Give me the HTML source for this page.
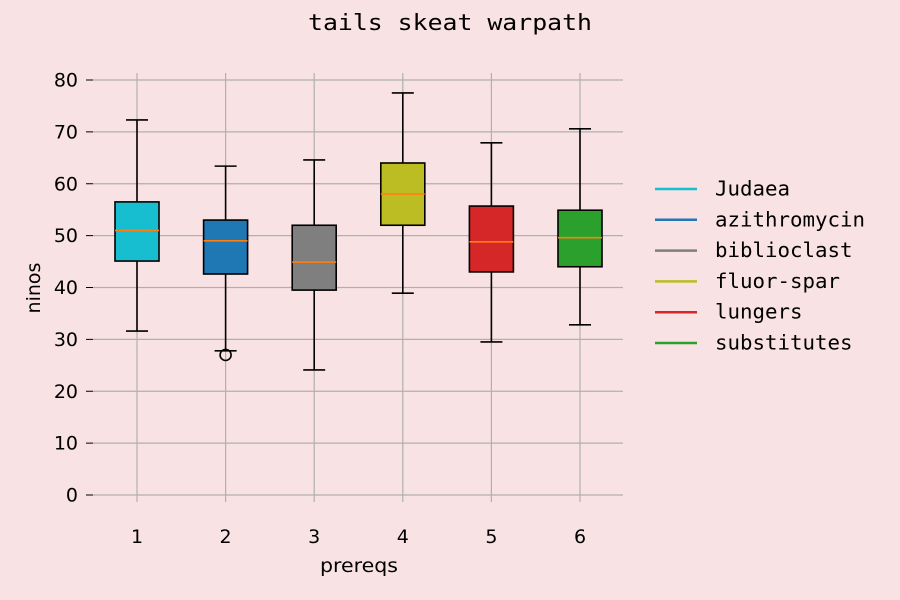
<!DOCTYPE html>
<html><head><meta charset="utf-8"><style>
body{margin:0;background:#f9e2e3;}
svg{display:block}
</style></head><body>
<svg id="chart" width="900" height="600" xmlns="http://www.w3.org/2000/svg">
<rect width="900" height="600" fill="#f9e2e3"/>
<text x="450" y="30" text-anchor="middle" font-family="DejaVu Sans Mono, Liberation Mono, monospace" font-size="22" textLength="284" lengthAdjust="spacingAndGlyphs" fill="#000">tails skeat warpath</text>
<g id="grid"></g><g id="axes"></g><g id="boxes"></g>
<text x="359" y="572" text-anchor="middle" font-family="DejaVu Sans, Liberation Sans, sans-serif" font-size="19" textLength="78" lengthAdjust="spacingAndGlyphs">prereqs</text>
<text transform="translate(40,288) rotate(-90)" text-anchor="middle" font-family="DejaVu Sans, Liberation Sans, sans-serif" font-size="19">ninos</text>
<g id="legend"></g>
</svg>
<script>
const categories=["1","2","3","4","5","6"];
const seriesNames=["Judaea","azithromycin","biblioclast","fluor-spar","lungers","substitutes"];
const colors=["#17becf","#1f77b4","#7f7f7f","#bcbd22","#d62728","#2ca02c"];
const whiskerLow=[31.6,27.8,24.1,38.9,29.5,32.8];
const q1=[45.1,42.6,39.5,52.0,43.0,44.0];
const medians=[51.0,49.0,44.9,58.0,48.8,49.6];
const q3=[56.5,53.0,52.0,64.0,55.7,54.9];
const whiskerHigh=[72.3,63.4,64.6,77.5,67.9,70.6];
const outliers=[[],[27.0],[],[],[],[]];
const yTicks=[0,10,20,30,40,50,60,70,80];
const NS="http://www.w3.org/2000/svg";
const X0=93,X1=623;
function y(v){return 495-v*5.1875;}
function x(i){return 137+i*88.6;}
function mk(parent,tag,attrs,text){const e=document.createElementNS(NS,tag);for(const k in attrs)e.setAttribute(k,attrs[k]);if(text!==undefined)e.textContent=text;document.getElementById(parent).appendChild(e);return e;}
yTicks.forEach(t=>{
 let g=mk("grid","line",{x1:X0,x2:X1,y1:y(t),y2:y(t),stroke:"#b0b0b0","stroke-width":1.2});
 
 
 let tk=mk("axes","line",{x1:86,x2:93,y1:y(t),y2:y(t),stroke:"#000"});
 
 
 let l=mk("axes","text",{x:78,y:y(t)+6.5,"text-anchor":"end","font-family":"DejaVu Sans, Liberation Sans, sans-serif","font-size":"19"},String(t));
 
 
});
categories.forEach((c,i)=>{
 const cx=x(i);
 let g=mk("grid","line",{x1:cx,x2:cx,y1:73,y2:502,stroke:"#b0b0b0","stroke-width":1.2});
 
 
 let l=mk("axes","text",{x:cx,y:543,"text-anchor":"middle","font-family":"DejaVu Sans, Liberation Sans, sans-serif","font-size":"19"},c);
 
 
 const s={stroke:"#000","stroke-width":1.6};
 let w1=mk("boxes","line",Object.assign({x1:cx,x2:cx,y1:y(whiskerLow[i]),y2:y(q1[i])},s));
 
 
 let w2=mk("boxes","line",Object.assign({x1:cx,x2:cx,y1:y(q3[i]),y2:y(whiskerHigh[i])},s));
 
 
 let c1=mk("boxes","line",Object.assign({x1:cx-11,x2:cx+11,y1:y(whiskerLow[i]),y2:y(whiskerLow[i])},s));
 
 
 let c2=mk("boxes","line",Object.assign({x1:cx-11,x2:cx+11,y1:y(whiskerHigh[i]),y2:y(whiskerHigh[i])},s));
 
 
 let b=mk("boxes","rect",{x:cx-22,y:y(q3[i]),width:44,height:y(q1[i])-y(q3[i]),fill:colors[i],stroke:"#000","stroke-width":1.6});
 
 
 let m=mk("boxes","line",{x1:cx-22,x2:cx+22,y1:y(medians[i]),y2:y(medians[i]),stroke:"#ff7f0e","stroke-width":1.6});
 
 
 outliers[i].forEach(o=>{
  let p=mk("boxes","circle",{cx:cx,cy:y(o),r:5.5,fill:"none",stroke:"#000","stroke-width":1.6});
  
  
 });
});
seriesNames.forEach((n,i)=>{
 const ly=189+i*30.8;
 let ln=mk("legend","line",{x1:655,x2:697,y1:ly,y2:ly,stroke:colors[i],"stroke-width":2.5});
 
 
 let t=mk("legend","text",{x:715,y:ly+6.5,"font-family":"DejaVu Sans Mono, Liberation Mono, monospace","font-size":"20",textLength:String(n.length*12.5),lengthAdjust:"spacingAndGlyphs"},n);
 
 
});
</script>
</body></html>
